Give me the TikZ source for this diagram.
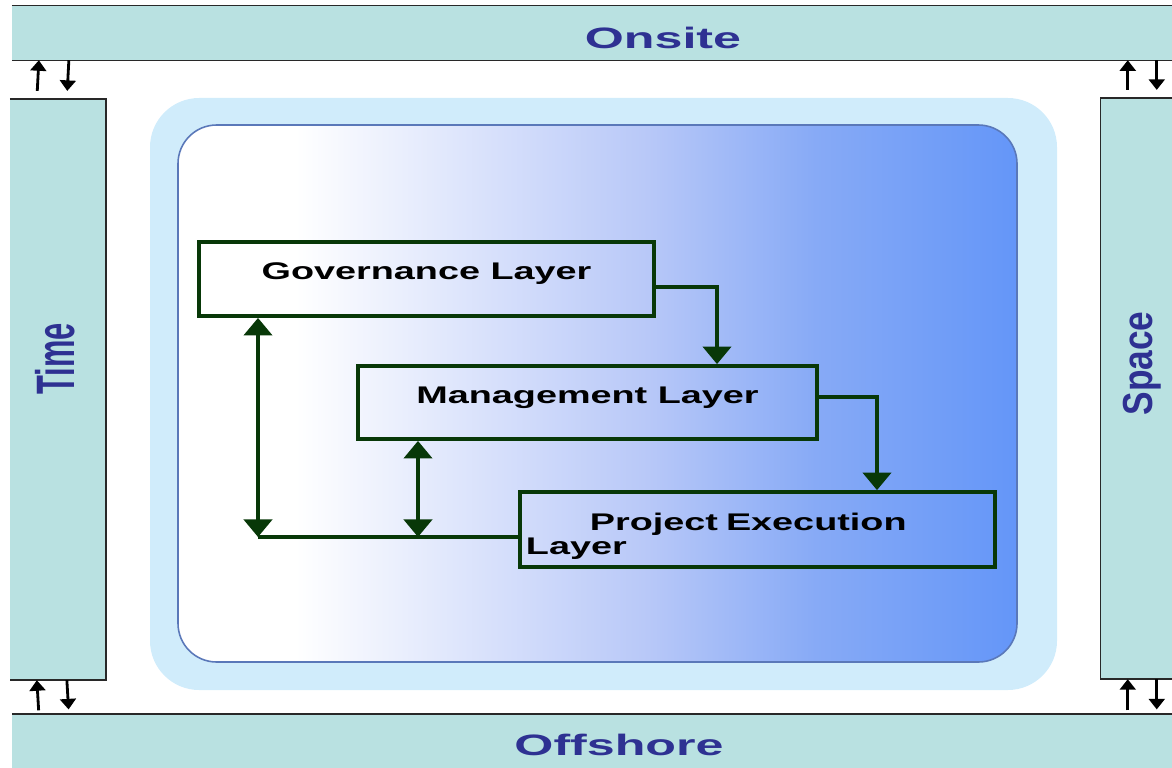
\documentclass[tikz,border=0pt]{standalone}
\usepackage{fontspec}
\setmainfont{Liberation Sans}
\newfontfamily\barfont[FakeStretch=1.7]{Liberation Sans}
\newfontfamily\layerfont[FakeStretch=1.57]{Liberation Sans}
\newfontfamily\timefont[FakeStretch=0.57]{Liberation Sans}
\newfontfamily\spacefont[FakeStretch=0.84]{Liberation Sans}
\usepackage{tikz}
\usetikzlibrary{
    arrows.meta,
    calc,
    positioning
}
\definecolor{barfill}{RGB}{185,225,225}
\definecolor{barrim}{RGB}{40,40,40}
\definecolor{labelblue}{RGB}{46,49,146}
\definecolor{framefill}{RGB}{208,236,251}
\definecolor{panelrim}{RGB}{90,120,185}
\definecolor{panelmid}{RGB}{184,200,248}
\definecolor{paneldeep}{RGB}{135,170,246}
\definecolor{panelblue}{RGB}{100,150,248}
\definecolor{layergreen}{RGB}{8,56,8}
\pgfdeclarehorizontalshading{panelshade}{100bp}{color(0bp)=(white); color(32bp)=(white); color(53bp)=(panelmid); color(63bp)=(paneldeep); color(75bp)=(panelblue); color(100bp)=(panelblue)}
\tikzset{
    bar/.style={fill=barfill, inner sep=0pt},
    barline/.style={draw=barrim, line width=0.8pt},
    barlabel/.style={text=labelblue, inner sep=0pt, font=\barfont\bfseries\fontsize{16.8}{18}\selectfont},
    layerbox/.style={draw=layergreen, line width=2.3pt, inner sep=0pt, text height=9.8pt, text depth=9pt, font=\layerfont\bfseries\fontsize{13.7}{13.6}\selectfont},
    flow/.style={draw=layergreen, line width=2.3pt, -{Triangle[width=16pt,length=10pt]}},
    twoway/.style={draw=layergreen, line width=2.3pt, {Triangle[width=16pt,length=10pt]}-{Triangle[width=16pt,length=10pt]}},
    link/.style={draw=layergreen, line width=2.3pt},
    hop/.style={draw=black, line width=1.6pt, -{Triangle[width=9pt,length=6pt]}}
}
\begin{document}
\begin{tikzpicture}[x=0.02cm, y=-0.02cm]
                        \useasboundingbox (0,0) rectangle (1172,767);
                        \fill[framefill, rounded corners=28pt] (150,98) rectangle (1057,690);
                        \path[shading=panelshade, draw=panelrim, line width=0.9pt, rounded corners=22pt] (178,125) rectangle (1017,662);
                        \node[bar, minimum width=660pt, minimum height=30.6pt] (onsite) at (592,33) {};
                        \node[bar, minimum width=660pt, minimum height=31.7pt] (offshore) at (592,742) {};
                        \node[bar, minimum width=54.4pt, minimum height=330.5pt] (time) at (58,389.5) {};
                        \node[bar, minimum width=42pt, minimum height=330.5pt] (space) at (1138,388.5) {};
                        \draw[barline]
                        (onsite.north west) -- (onsite.north east)
                        (onsite.south west) -- (onsite.south east)
                        (offshore.north west) -- (offshore.north east)
                        (time.north west) -- (time.north east) -- (time.south east) -- (time.south west)
                        (space.north east) -- (space.north west) -- (space.south west) -- (space.south east);
                        \node[barlabel] (onsitetext) at (663,37.5) {Onsite};
                        \node[barlabel] (offshoretext) at (619,745) {Offshore};
                        \node[text=labelblue, inner sep=0pt, rotate=90, font=\timefont\bfseries\fontsize{30.8}{32}\selectfont] (timetext) at (55.5,359) {Time};
                        \node[text=labelblue, inner sep=0pt, rotate=90, font=\spacefont\bfseries\fontsize{23.9}{25}\selectfont] (spacetext) at (1142.5,363.5) {Space};
                        \node[layerbox, minimum width=259.1pt, minimum height=42pt] (gov) at (426.5,279) {Governance Layer};
                        \node[layerbox, minimum width=261.3pt, minimum height=41.4pt] (mgmt) at (587.5,402.5) {Management Layer};
                        \node[layerbox, minimum width=270.4pt, minimum height=42.5pt, text height=, text depth=, align=left, text width=263.6pt, inner xsep=3.4pt] (exec) at (757.5,529.5) {\rule{0pt}{18pt}\hspace*{36.4pt}Project Execution\\Layer};
                        \coordinate (govfoot) at (258,537);
                        \coordinate (mgmtfoot) at (418,537);
                        \draw[flow] ($(gov.east)+(0,8)$) -| ($(mgmt.north)+(129.5,0)$);
                        \draw[flow] ($(mgmt.east)+(0,-5.5)$) -| ($(exec.north)+(119.5,0)$);
                        \draw[twoway] (gov.south -| govfoot) -- (govfoot);
                        \draw[twoway] (mgmt.south -| mgmtfoot) -- (mgmtfoot);
                        \draw[link] (govfoot) -- (govfoot -| exec.west);
                        \draw[hop, shorten <=4.5pt] ($(time.north west)+(27,0)$) -- ($(onsite.south west)+(27,0)$);
                        \draw[hop, shorten >=4.5pt] ($(onsite.south west)+(57,0)$) -- ($(time.north west)+(57,0)$);
                        \draw[hop, shorten <=2pt] ($(offshore.north west)+(27,0)$) -- ($(time.south west)+(27,0)$);
                        \draw[hop, shorten >=2.5pt] ($(time.south west)+(57,0)$) -- ($(offshore.north west)+(57,0)$);
                        \draw[hop, shorten <=4.5pt] ($(space.north west)+(27,0)$) coordinate (spaceup) -- (spaceup |- onsite.south);
                        \draw[hop, shorten >=4.5pt] ($(space.north west)+(56,0)$) coordinate (spacedown) (spacedown |- onsite.south) -- (spacedown);
                        \draw[hop, shorten <=2pt] ($(space.south west)+(27,0)$) coordinate (spacelow) (spacelow |- offshore.north) -- (spacelow);
                        \draw[hop, shorten >=2.5pt] ($(space.south west)+(56,0)$) coordinate (spacedrop) -- (spacedrop |- offshore.north);
                    \end{tikzpicture}
\end{document}
